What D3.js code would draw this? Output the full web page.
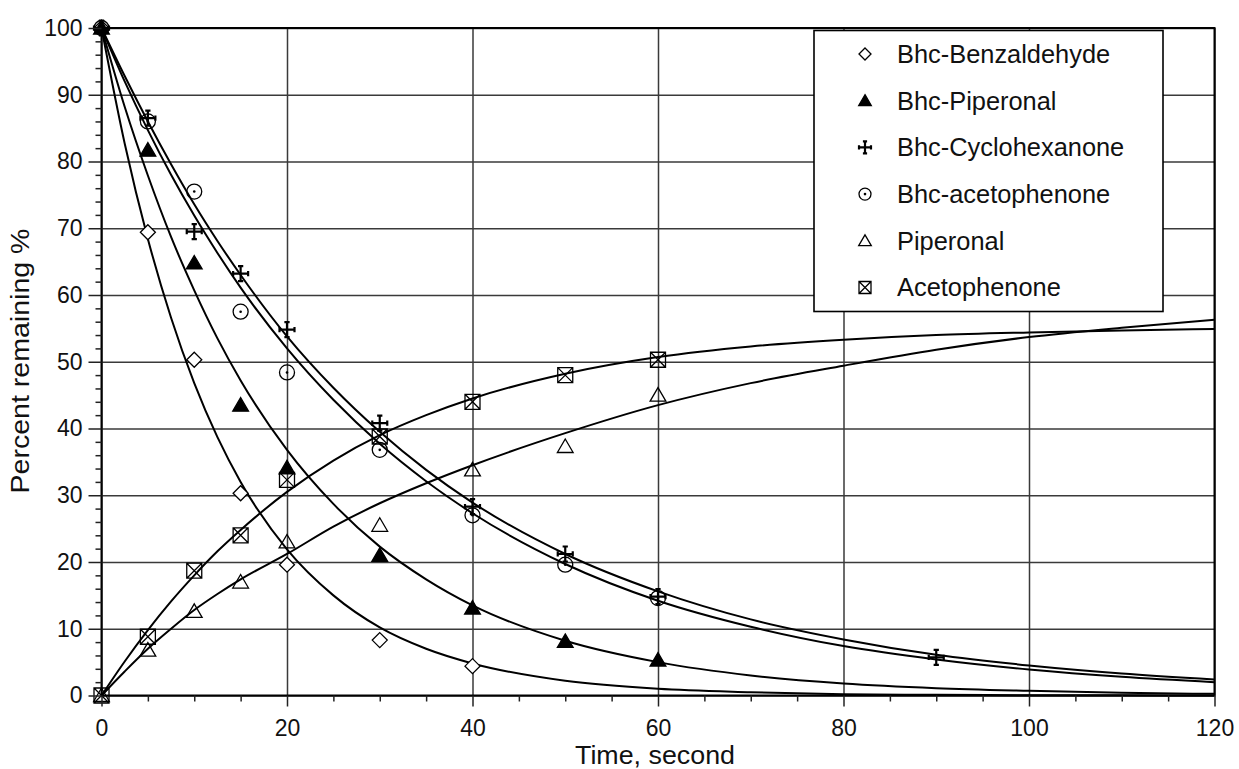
<!DOCTYPE html>
<html>
<head>
<meta charset="utf-8">
<script src="https://cdn.jsdelivr.net/npm/d3@7/dist/d3.min.js"></script>
<style>
  body { margin: 0; background: #fff; }
  text { font-family: "Liberation Sans", Arial, sans-serif; fill: #111; }
</style>
</head>
<body>
<div id="chart"></div>
<script>
// measured points (time in s, percent remaining)
var benzT = [0, 5, 10, 15, 20, 30, 40];
var benzV = [100, 69.4, 50.3, 30.3, 19.6, 8.3, 4.4];
var bhcPipT = [0, 5, 10, 15, 20, 30, 40, 50, 60];
var bhcPipV = [100, 81.7, 64.8, 43.5, 34.1, 21.0, 13.1, 8.1, 5.3];
var cycloT = [0, 5, 10, 15, 20, 30, 40, 50, 60, 90];
var cycloV = [100, 86.5, 69.5, 63.2, 54.8, 40.8, 28.3, 21.2, 14.8, 5.7];
var bhcAcetoT = [0, 5, 10, 15, 20, 30, 40, 50, 60];
var bhcAcetoV = [100, 86.0, 75.5, 57.5, 48.4, 36.8, 27.0, 19.6, 14.6];
var pipT = [0, 5, 10, 15, 20, 30, 40, 50, 60];
var pipV = [0, 6.8, 12.6, 17.0, 23.0, 25.5, 33.8, 37.3, 45.0];
var acetoT = [0, 5, 10, 15, 20, 30, 40, 50, 60];
var acetoV = [0, 8.8, 18.7, 24.0, 32.3, 38.8, 44.0, 48.0, 50.3];

// fitted curves
var fitT = [0, 2.5, 5, 7.5, 10, 12.5, 15, 20, 25, 30, 35, 40, 50, 60, 70, 80, 90, 100, 110, 120];
var fitBenz = [100, 82.7, 68.4, 56.6, 46.8, 38.7, 32.0, 21.9, 15.0, 10.2, 7.0, 4.8, 2.2, 1.0, 0.5, 0.2, 0.1, 0.05, 0.02, 0.01];
var fitBhcPip = [100, 88.2, 77.9, 68.7, 60.7, 53.5, 47.2, 36.8, 28.7, 22.3, 17.4, 13.5, 8.2, 5.0, 3.0, 1.8, 1.1, 0.7, 0.4, 0.25];
var fitCyclo = [100, 92.8, 86.0, 79.6, 73.6, 68.1, 63.0, 53.8, 46.1, 39.5, 33.8, 28.9, 21.2, 15.6, 11.4, 8.4, 6.1, 4.5, 3.3, 2.4];
var fitBhcAceto = [100, 92.0, 84.7, 78.0, 71.9, 66.3, 61.1, 52.0, 44.3, 37.7, 32.1, 27.3, 19.7, 14.2, 10.3, 7.4, 5.4, 3.9, 2.8, 2.0];
var fitPip = [0, 3.6, 7.0, 10.0, 12.8, 15.2, 17.4, 21.2, 25.3, 28.8, 31.8, 34.5, 39.3, 43.5, 46.8, 49.4, 51.8, 53.7, 55.1, 56.3];
var fitAceto = [0, 5.1, 9.8, 14.1, 18.0, 21.6, 24.8, 30.5, 35.2, 39.0, 42.0, 44.5, 48.2, 50.7, 52.3, 53.3, 54.0, 54.4, 54.7, 54.9];

var legendNames = ["Bhc-Benzaldehyde", "Bhc-Piperonal", "Bhc-Cyclohexanone", "Bhc-acetophenone", "Piperonal", "Acetophenone"];
var markerTypes = ["diamond", "filledTri", "cross", "dotCircle", "openTri", "boxX"];
var xMajor = [0, 20, 40, 60, 80, 100, 120];
var yMajor = [0, 10, 20, 30, 40, 50, 60, 70, 80, 90, 100];

var W = 1239, H = 769;
var svg = d3.select("#chart").append("svg").attr("width", W).attr("height", H);

var x = d3.scaleLinear().domain([0, 120]).range([101.5, 1214.5]);
var y = d3.scaleLinear().domain([0, 100]).range([695.5, 28]);

// grid
svg.append("g").attr("transform", "translate(0,695.5)")
  .call(d3.axisBottom(x).tickValues(xMajor).tickSize(-667.5).tickFormat(""))
  .call(function(g) { g.select(".domain").remove(); g.selectAll("line").attr("stroke", "#3a3a3a").attr("stroke-width", 1.5); });
svg.append("g").attr("transform", "translate(101.5,0)")
  .call(d3.axisLeft(y).tickValues(yMajor).tickSize(-1113).tickFormat(""))
  .call(function(g) { g.select(".domain").remove(); g.selectAll("line").attr("stroke", "#3a3a3a").attr("stroke-width", 1.5); });

// fitted curves
var line = d3.line().x(function(d) { return x(d[0]); }).y(function(d) { return y(d[1]); }).curve(d3.curveMonotoneX);
[fitBenz, fitBhcPip, fitCyclo, fitBhcAceto, fitPip, fitAceto].forEach(function(vals) {
  svg.append("path")
    .attr("d", line(fitT.map(function(t, i) { return [t, vals[i]]; })))
    .attr("fill", "none").attr("stroke", "#000").attr("stroke-width", 2);
});

// markers
function drawMarker(g, type, s) {
  if (type == "diamond") {
    g.append("path").attr("d", "M0," + (-s) + "L" + s + ",0L0," + s + "L" + (-s) + ",0Z")
      .attr("fill", "#fff").attr("stroke", "#000").attr("stroke-width", 1.3);
  } else if (type == "filledTri" || type == "openTri") {
    g.append("path").attr("d", "M0," + (-s) + "L" + (s * 1.05) + "," + (s * 0.8) + "L" + (-s * 1.05) + "," + (s * 0.8) + "Z")
      .attr("fill", type == "filledTri" ? "#000" : "none").attr("stroke", "#000").attr("stroke-width", 1.3);
  } else if (type == "cross") {
    var c = s * 0.35;
    g.append("path").attr("d", "M" + (-s) + ",0H" + s + "M0," + (-s) + "V" + s +
        "M" + (-s) + "," + (-c) + "V" + c + "M" + s + "," + (-c) + "V" + c +
        "M" + (-c) + "," + (-s) + "H" + c + "M" + (-c) + "," + s + "H" + c)
      .attr("fill", "none").attr("stroke", "#000").attr("stroke-width", 2.2);
  } else if (type == "dotCircle") {
    g.append("circle").attr("r", s).attr("fill", "none").attr("stroke", "#000").attr("stroke-width", 1.3);
    g.append("circle").attr("r", 1.3).attr("fill", "#000");
  } else if (type == "boxX") {
    g.append("path").attr("d", "M" + (-s) + "," + (-s) + "H" + s + "V" + s + "H" + (-s) + "Z" +
        "M" + (-s) + "," + (-s) + "L" + s + "," + s + "M" + s + "," + (-s) + "L" + (-s) + "," + s)
      .attr("fill", "none").attr("stroke", "#000").attr("stroke-width", 1.3);
  }
}

var seriesT = [benzT, bhcPipT, cycloT, bhcAcetoT, pipT, acetoT];
var seriesV = [benzV, bhcPipV, cycloV, bhcAcetoV, pipV, acetoV];
seriesT.forEach(function(ts, k) {
  ts.forEach(function(t, i) {
    var g = svg.append("g").attr("transform", "translate(" + x(t) + "," + y(seriesV[k][i]) + ")");
    drawMarker(g, markerTypes[k], 7.5);
  });
});

// frame
svg.append("rect").attr("x", 101.5).attr("y", 28).attr("width", 1113).attr("height", 667.5)
  .attr("fill", "none").attr("stroke", "#000").attr("stroke-width", 2);

// axes ticks + labels
var xAx = svg.append("g").attr("transform", "translate(0,695.5)")
  .call(d3.axisBottom(x).tickValues(xMajor).tickSize(11).tickPadding(8).tickFormat(d3.format("d")));
var xMin = svg.append("g").attr("transform", "translate(0,695.5)")
  .call(d3.axisBottom(x).tickValues(d3.range(5, 120, 5).filter(function(v) { return v % 20 != 0; })).tickSize(6).tickFormat(""));
var yAx = svg.append("g").attr("transform", "translate(101.5,0)")
  .call(d3.axisLeft(y).tickValues(yMajor).tickSize(13).tickPadding(6).tickFormat(d3.format("d")));
var yMin = svg.append("g").attr("transform", "translate(101.5,0)")
  .call(d3.axisLeft(y).tickValues(d3.range(2, 100, 2).filter(function(v) { return v % 10 != 0; })).tickSize(6).tickFormat(""));
[xAx, xMin, yAx, yMin].forEach(function(g) {
  g.select(".domain").remove();
  g.selectAll("line").attr("stroke", "#222").attr("stroke-width", 1.5);
  g.selectAll("text").attr("font-size", 23).attr("font-family", "Liberation Sans, Arial, sans-serif").attr("fill", "#111");
});
xAx.selectAll("text").attr("dy", "0.95em");

// axis titles
svg.append("text").attr("x", 655).attr("y", 764).attr("text-anchor", "middle")
  .attr("font-size", 26).attr("textLength", 160).attr("lengthAdjust", "spacingAndGlyphs").text("Time, second");
svg.append("text").attr("transform", "translate(28.5,361) rotate(-90)").attr("text-anchor", "middle")
  .attr("font-size", 26).attr("textLength", 265).attr("lengthAdjust", "spacingAndGlyphs").text("Percent remaining %");

// legend
var leg = svg.append("g");
leg.append("rect").attr("x", 814).attr("y", 30.5).attr("width", 349).attr("height", 281)
  .attr("fill", "#fff").attr("stroke", "#000").attr("stroke-width", 1.6);
legendNames.forEach(function(name, i) {
  var cy = 54 + i * 46.7;
  var g = leg.append("g").attr("transform", "translate(865," + cy + ")");
  drawMarker(g, markerTypes[i], 6);
  leg.append("text").attr("x", 897).attr("y", cy + 8.8).attr("font-size", 25.4).text(name);
});
</script>
</body>
</html>
